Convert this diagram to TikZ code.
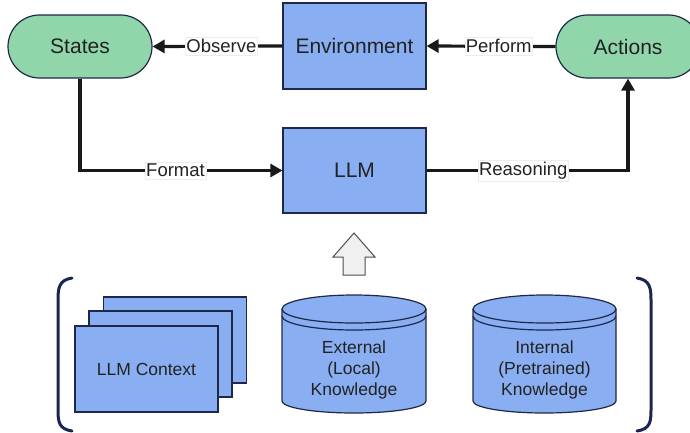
\documentclass[tikz,border=0pt]{standalone}
\usepackage{fontspec}
\setmainfont{Liberation Sans}
\usetikzlibrary{arrows.meta,shapes.misc}
\definecolor{boxblue}{RGB}{137,174,242}
\definecolor{boxgreen}{RGB}{144,214,170}
\definecolor{navy}{RGB}{30,40,74}
\definecolor{brnavy}{RGB}{28,36,82}
\definecolor{txt}{RGB}{34,34,34}
\definecolor{upgray}{RGB}{240,240,240}
\tikzset{
  bigtxt/.style={font=\fontsize{21}{23}\selectfont, text=txt},
  smtxt/.style={font=\fontsize{17.5}{21}\selectfont, text=txt},
  lbltxt/.style={font=\fontsize{18.5}{21}\selectfont, text=txt},
  bluebox/.style={draw=navy, line width=1.2pt, fill=boxblue, rectangle, inner sep=0pt},
  stadium/.style={draw=navy, line width=1.2pt, fill=boxgreen, rounded rectangle, minimum width=144pt, minimum height=63pt, inner sep=0pt, bigtxt},
  arr/.style={line width=3.2pt, draw=black!90, -{Triangle[length=12pt,width=13pt]}},
  lbl/.style={fill=white, draw=gray!15, line width=0.6pt, inner xsep=1pt, inner ysep=2pt, lbltxt},
  cylfill/.style={draw=navy, line width=1.2pt, fill=boxblue},
  brack/.style={draw=brnavy, line width=3pt, line cap=round},
}
\begin{document}
\begin{tikzpicture}[x=1pt,y=-1pt]
\clip (0,0) rectangle (690,432);
\useasboundingbox (0,0) rectangle (690,432);

% top row
\node[stadium] (states) at (80,46.5) {States};
\node[stadium] (actions) at (628,46.5) {Actions};
\node[bluebox, minimum width=143pt, minimum height=86pt, bigtxt] (env) at (354.5,46) {Environment};
\node[bluebox, minimum width=143pt, minimum height=85pt, bigtxt] (llm) at (354.5,170.5) {LLM};

% connectors
\draw[arr] (env.west) -- node[lbl,pos=0.47]{Observe} (states.east);
\draw[arr] (actions.west) -- node[lbl,pos=0.44]{Perform} (env.east);
\draw[arr] (states.south) |- node[lbl,pos=0.736]{Format} (llm.west);
\draw[arr] (llm.east) -| node[lbl,pos=0.24]{Reasoning} (actions.south);

% up block arrow
\draw[draw=black!70, line width=1pt, fill=upgray, line join=miter]
  (343,275) -- (343,257) -- (333,257) -- (354,233) -- (375,257) -- (365,257) -- (365,275) -- cycle;

% brackets
\draw[brack] (72,278) .. controls (59,280) and (58,288) .. (58,300) -- (58,410) .. controls (58,422) and (59,429) .. (72,431);
\draw[brack] (637,278) .. controls (650,280) and (651,288) .. (651,300) -- (651,410) .. controls (651,422) and (650,429) .. (637,431);

% stacked context pages
\node[bluebox, minimum width=143pt, minimum height=86pt] (ctx3) at (175,340) {};
\node[bluebox, minimum width=143pt, minimum height=86pt] (ctx2) at (160.5,354) {};
\node[bluebox, minimum width=143pt, minimum height=86pt, smtxt] (ctx1) at (146.5,369) {LLM Context};

% cylinders
\begin{scope}[shift={(354,0)}]
  \path[cylfill] (-72,309) -- (-72,401) arc[start angle=180,end angle=360,x radius=72pt,y radius=12pt] -- (72,309) arc[start angle=0,end angle=180,x radius=72pt,y radius=14pt] -- cycle;
  \draw[draw=navy, line width=1.2pt] (-72,309) arc[start angle=180,end angle=360,x radius=72pt,y radius=14pt];
  \draw[draw=navy, line width=1.2pt] (-72,316) arc[start angle=180,end angle=360,x radius=72pt,y radius=14pt];
  \node[smtxt, align=center, inner sep=0pt] (ext) at (0,370) {External\\(Local)\\Knowledge};
\end{scope}
\begin{scope}[shift={(544.5,0)}]
  \path[cylfill] (-71.5,309) -- (-71.5,401) arc[start angle=180,end angle=360,x radius=71.5pt,y radius=12pt] -- (71.5,309) arc[start angle=0,end angle=180,x radius=71.5pt,y radius=14pt] -- cycle;
  \draw[draw=navy, line width=1.2pt] (-71.5,309) arc[start angle=180,end angle=360,x radius=71.5pt,y radius=14pt];
  \draw[draw=navy, line width=1.2pt] (-71.5,316) arc[start angle=180,end angle=360,x radius=71.5pt,y radius=14pt];
  \node[smtxt, align=center, inner sep=0pt] (int) at (0,370) {Internal\\(Pretrained)\\Knowledge};
\end{scope}
\end{tikzpicture}
\end{document}
